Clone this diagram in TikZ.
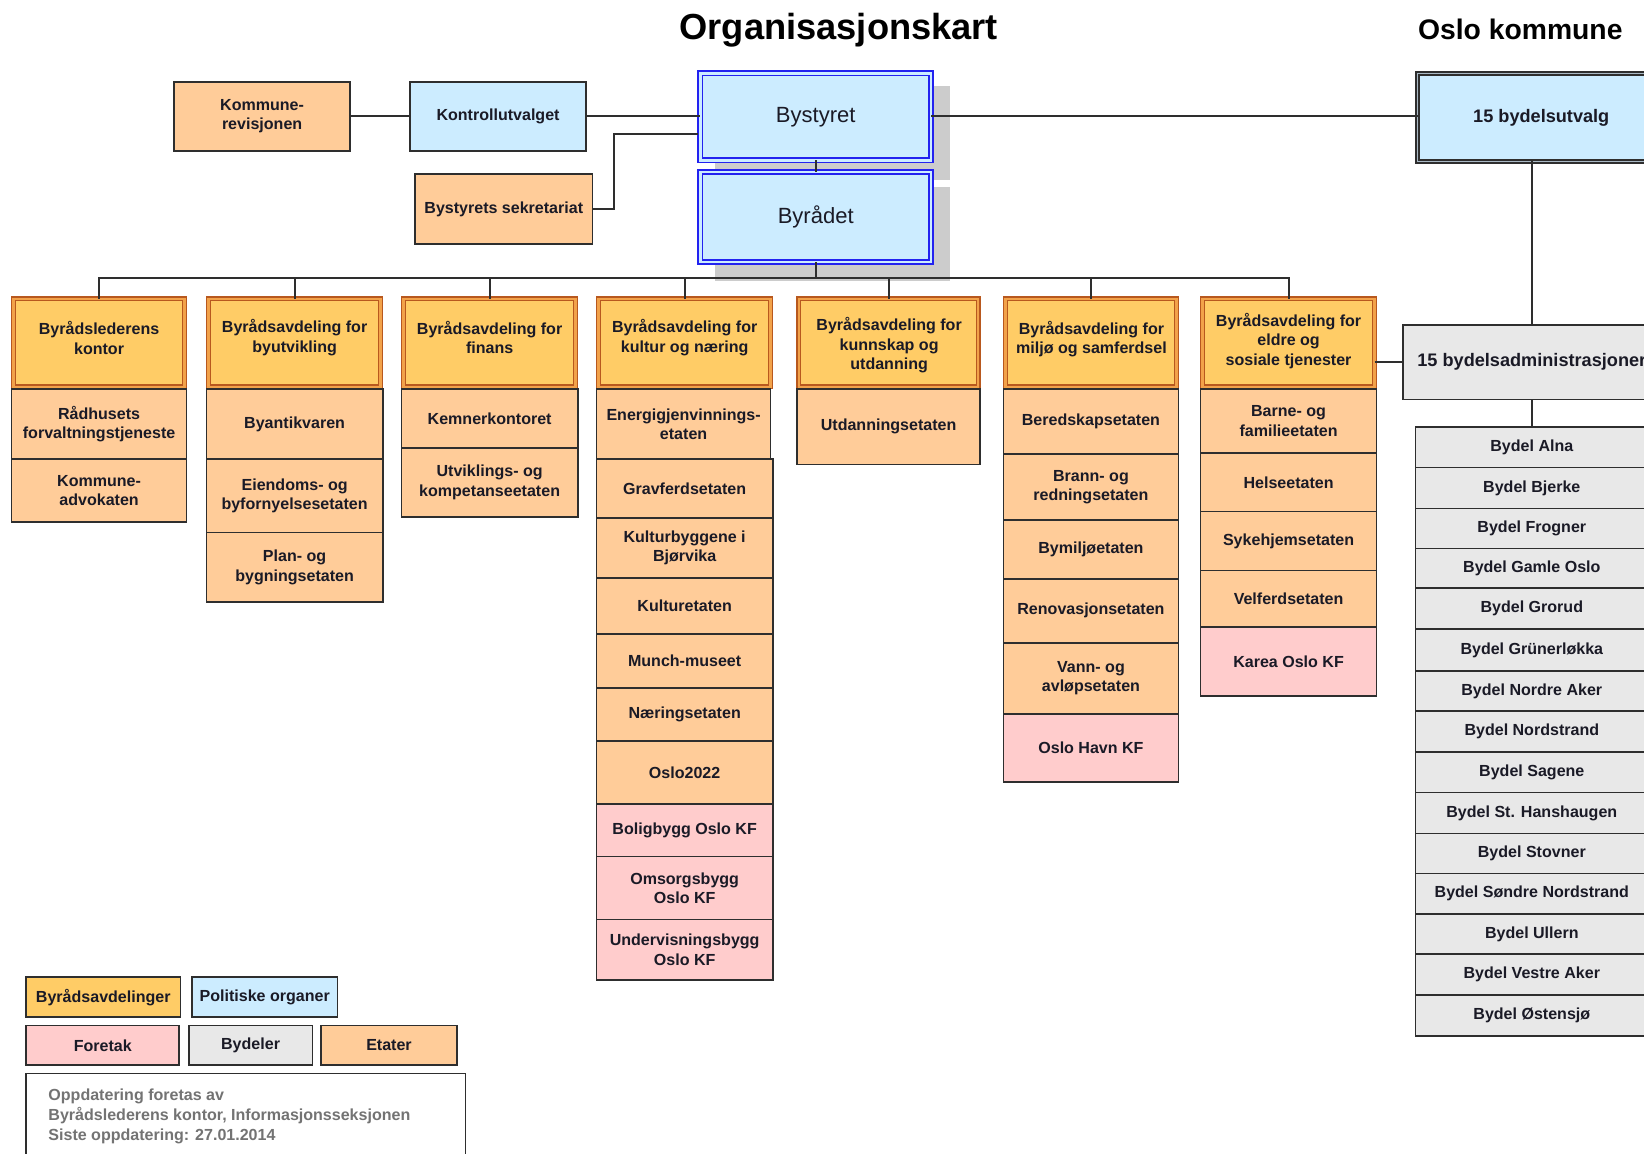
\documentclass[tikz,border=0pt]{standalone}
\usepackage{fontspec}
\setmainfont{Liberation Sans}
\usetikzlibrary{calc}
\definecolor{deptc}{HTML}{FFCC66}
\definecolor{deptline}{HTML}{B8581E}
\definecolor{deptmid}{HTML}{F2A24A}
\definecolor{etatc}{HTML}{FFCC99}
\definecolor{forc}{HTML}{FFCCCC}
\definecolor{bydc}{HTML}{E8E8E8}
\definecolor{polc}{HTML}{CCECFF}
\definecolor{polline}{HTML}{2222F0}
\definecolor{linec}{HTML}{2E2E2E}
\definecolor{txtc}{HTML}{1A1A26}
\definecolor{notec}{HTML}{737373}
\definecolor{shadowc}{HTML}{CCCCCC}
\definecolor{utvgap}{HTML}{A9B8C4}
\newcommand\orgbox[7]{%
  \pgfmathsetmacro\obcx{(#3+#4)/2}%
  \pgfmathsetmacro\obcy{(#5+#6)/2}%
  \pgfmathsetmacro\obw{#4-#3}%
  \pgfmathsetmacro\obh{#6-#5}%
  \node[#2, minimum width=\obw pt, minimum height=\obh pt] (#1) at (\obcx,\obcy) {#7};}
\tikzset{
  base/.style={inner sep=0, outer sep=0, align=center, text=txtc,
    font=\bfseries\fontsize{15.3}{18.5}\selectfont},
  etat/.style={base, draw=linec, line width=1.6, fill=etatc},
  foretak/.style={base, draw=linec, line width=1.6, fill=forc},
  bydel/.style={base, draw=linec, line width=1.6, fill=bydc},
  polit/.style={base, draw=linec, line width=1.6, fill=polc},
  legdept/.style={base, draw=linec, line width=1.6, fill=deptc},
  notebox/.style={base, draw=linec, line width=1.6, fill=white},
  deptbox/.style={base, draw=deptline, double=deptmid, double distance=2.4, line width=1.2, fill=deptc},
  headtxt/.style={inner sep=0, align=center, text=txtc, font=\bfseries\fontsize{15.3}{18.5}\selectfont},
  polbig/.style={base, draw=polline, double=polc, double distance=2.6, line width=1.5, fill=polc,
    font=\fontsize{21}{25}\selectfont},
  utvbox/.style={base, draw=linec, double=utvgap, double distance=1.6, line width=1.5, fill=polc,
    font=\bfseries\fontsize{17.3}{20}\selectfont},
  admbox/.style={base, draw=linec, line width=1.6, fill=bydc, font=\bfseries\fontsize{17.3}{20}\selectfont},
  conn/.style={draw=linec, line width=1.8},
}
\begin{document}
\begin{tikzpicture}[x=1pt,y=-1pt]
\useasboundingbox (0,0) rectangle (1568,1100);
\clip (0,0) rectangle (1568,1100);
\fill[white] (0,0) rectangle (1568,1100);

% titles
\node[text=black, font=\bfseries\fontsize{34.6}{40}\selectfont] (title) at (800,29) {Organisasjonskart};
\node[text=black, font=\bfseries\fontsize{27}{32}\selectfont] (oslo) at (1450,28) {Oslo kommune};

% shadows
\fill[shadowc] (682,82) rectangle (906,172);
\fill[shadowc] (682,178) rectangle (906,268);

% top row
\orgbox{komrev}{etat}{166}{334}{78}{144}{Kommune-\\revisjonen}
\orgbox{kontroll}{polit}{391}{559}{78}{144}{Kontrollutvalget}
\orgbox{bystyret}{polbig}{668}{888}{70}{153}{Bystyret}
\orgbox{byraadet}{polbig}{668}{888}{164}{250}{Byrådet}
\orgbox{sekr}{etat}{396}{565}{166}{233}{Bystyrets sekretariat}
\orgbox{utvalg}{utvbox}{1352}{1588}{70}{154}{15 bydelsutvalg}
\orgbox{adm}{admbox}{1338}{1584}{310}{381}{15 bydelsadministrasjoner}

\coordinate (bsin) at (666,128);
\coordinate (bus) at (778,265);

% top connectors
\draw[conn] (komrev.east) -- (kontroll.west);
\draw[conn] (kontroll.east) -- (kontroll.east -| bystyret.west);
\draw[conn] (sekr.east) -- ++(21,0) |- (bsin);
\draw[conn] (bystyret.east |- kontroll.east) -- (utvalg.west |- kontroll.east);
\draw[conn] (bystyret.south) -- (byraadet.north);
\draw[conn] (adm.north) -- (adm.north |- utvalg.south);

% departments
\orgbox{d1}{deptbox}{13}{176}{285}{369}{}
\orgbox{d2}{deptbox}{199}{363}{285}{369}{}
\orgbox{d3}{deptbox}{385}{549}{285}{369}{}
\orgbox{d4}{deptbox}{571}{735}{285}{369}{}
\orgbox{d5}{deptbox}{762}{933}{285}{369}{}
\orgbox{d6}{deptbox}{959}{1122}{285}{369}{}
\orgbox{d7}{deptbox}{1147}{1311}{285}{369}{}
\node[headtxt] (d1t) at (94.5,322.5) {Byrådslederens\\kontor};
\node[headtxt] (d2t) at (281,322) {Byrådsavdeling for\\byutvikling};
\node[headtxt] (d3t) at (467,322) {Byrådsavdeling for\\finans};
\node[headtxt] (d4t) at (653,322) {Byrådsavdeling for\\kultur og næring};
\node[headtxt] (d5t) at (848,329.5) {Byrådsavdeling for\\kunnskap og\\utdanning};
\node[headtxt] (d6t) at (1041,323.5) {Byrådsavdeling for\\miljø og samferdsel};
\node[headtxt] (d7t) at (1229,325) {Byrådsavdeling for\\eldre og\\sosiale tjenester};

% bus connectors
\draw[conn] (byraadet.south) -- (bus) -| (d1.north);
\draw[conn] (bus) -| (d2.north);
\draw[conn] (bus) -| (d3.north);
\draw[conn] (bus) -| (d4.north);
\draw[conn] (bus) -| (d5.north);
\draw[conn] (bus) -| (d6.north);
\draw[conn] (bus) -| (d7.north);
\draw[conn] (d7.east |- adm.west) -- (adm.west);

% column 1
\orgbox{c1a}{etat}{11}{178}{371}{438}{Rådhusets\\forvaltningstjeneste}
\orgbox{c1b}{etat}{11}{178}{438}{498}{Kommune-\\advokaten}
% column 2
\orgbox{c2a}{etat}{197}{365}{371}{438}{Byantikvaren}
\orgbox{c2b}{etat}{197}{365}{438}{508}{Eiendoms- og\\byfornyelsesetaten}
\orgbox{c2c}{etat}{197}{365}{508}{574}{Plan- og\\bygningsetaten}
% column 3
\orgbox{c3a}{etat}{383}{551}{371}{427}{Kemnerkontoret}
\orgbox{c3b}{etat}{383}{551}{427}{493}{Utviklings- og\\kompetanseetaten}
% column 4
\orgbox{c4a}{etat}{569}{735}{371}{438}{Energigjenvinnings-\\etaten}
\orgbox{c4b}{etat}{569}{737}{438}{494}{Gravferdsetaten}
\orgbox{c4c}{etat}{569}{737}{494}{551}{Kulturbyggene i\\Bjørvika}
\orgbox{c4d}{etat}{569}{737}{551}{605}{Kulturetaten}
\orgbox{c4e}{etat}{569}{737}{605}{656}{Munch-museet}
\orgbox{c4f}{etat}{569}{737}{656}{707}{Næringsetaten}
\orgbox{c4g}{etat}{569}{737}{707}{767}{Oslo2022}
\orgbox{c4h}{foretak}{569}{737}{767}{817}{Boligbygg Oslo KF}
\orgbox{c4i}{foretak}{569}{737}{817}{877}{Omsorgsbygg\\Oslo KF}
\orgbox{c4j}{foretak}{569}{737}{877}{935}{Undervisningsbygg\\Oslo KF}
% column 5
\orgbox{c5a}{etat}{760}{935}{371}{443}{Utdanningsetaten}
% column 6
\orgbox{c6a}{etat}{957}{1124}{371}{433}{Beredskapsetaten}
\orgbox{c6b}{etat}{957}{1124}{433}{496}{Brann- og\\redningsetaten}
\orgbox{c6c}{etat}{957}{1124}{496}{552}{Bymiljøetaten}
\orgbox{c6d}{etat}{957}{1124}{552}{613}{Renovasjonsetaten}
\orgbox{c6e}{etat}{957}{1124}{613}{681}{Vann- og\\avløpsetaten}
\orgbox{c6f}{foretak}{957}{1124}{681}{746}{Oslo Havn KF}
% column 7
\orgbox{c7a}{etat}{1145}{1313}{371}{432}{Barne- og\\familieetaten}
\orgbox{c7b}{etat}{1145}{1313}{432}{488}{Helseetaten}
\orgbox{c7c}{etat}{1145}{1313}{488}{544}{Sykehjemsetaten}
\orgbox{c7d}{etat}{1145}{1313}{544}{598}{Velferdsetaten}
\orgbox{c7e}{foretak}{1145}{1313}{598}{664}{Karea Oslo KF}

% bydeler
\orgbox{b1}{bydel}{1350}{1572}{407}{446}{Bydel Alna}
\orgbox{b2}{bydel}{1350}{1572}{446}{485}{Bydel Bjerke}
\orgbox{b3}{bydel}{1350}{1572}{485}{523}{Bydel Frogner}
\orgbox{b4}{bydel}{1350}{1572}{523}{561}{Bydel Gamle Oslo}
\orgbox{b5}{bydel}{1350}{1572}{561}{600}{Bydel Grorud}
\orgbox{b6}{bydel}{1350}{1572}{600}{640}{Bydel Grünerløkka}
\orgbox{b7}{bydel}{1350}{1572}{640}{678}{Bydel Nordre Aker}
\orgbox{b8}{bydel}{1350}{1572}{678}{717}{Bydel Nordstrand}
\orgbox{b9}{bydel}{1350}{1572}{717}{756}{Bydel Sagene}
\orgbox{b10}{bydel}{1350}{1572}{756}{795}{Bydel St. Hanshaugen}
\orgbox{b11}{bydel}{1350}{1572}{795}{833}{Bydel Stovner}
\orgbox{b12}{bydel}{1350}{1572}{833}{872}{Bydel Søndre Nordstrand}
\orgbox{b13}{bydel}{1350}{1572}{872}{910}{Bydel Ullern}
\orgbox{b14}{bydel}{1350}{1572}{910}{949}{Bydel Vestre Aker}
\orgbox{b15}{bydel}{1350}{1572}{949}{988}{Bydel Østensjø}
\draw[conn] (adm.south) -- (adm.south |- b1.north);

% legend
\orgbox{lgA}{legdept}{25}{172}{932}{970}{Byrådsavdelinger}
\orgbox{lgB}{polit}{183}{322}{932}{970}{Politiske organer}
\orgbox{lgC}{foretak}{25}{171}{978}{1016}{Foretak}
\orgbox{lgD}{bydel}{180}{298}{978}{1016}{Bydeler}
\orgbox{lgE}{etat}{306}{436}{978}{1016}{Etater}
\orgbox{notes}{notebox}{25}{444}{1024}{1120}{}
\node[anchor=north west, inner sep=0, align=left, text=notec,
  font=\bfseries\fontsize{15.3}{19}\selectfont] (notetext) at (46,1038)
  {Oppdatering foretas av\\Byrådslederens kontor, Informasjonsseksjonen\\Siste oppdatering: 27.01.2014};
\end{tikzpicture}
\end{document}
